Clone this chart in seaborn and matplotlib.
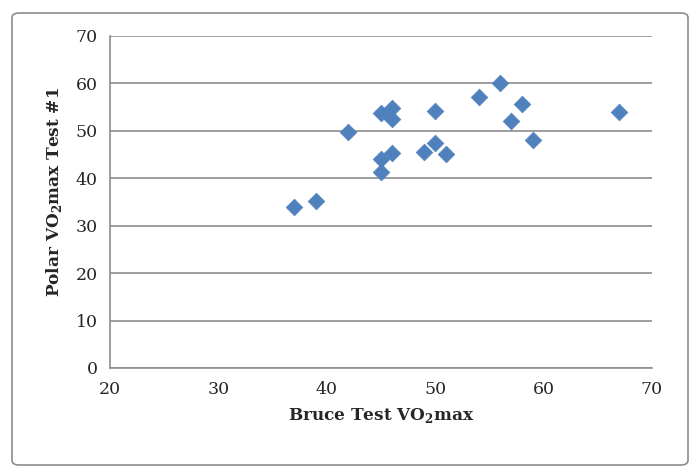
import matplotlib
matplotlib.use("Agg")
import matplotlib.pyplot as plt
from matplotlib.patches import FancyBboxPatch
import pandas as pd
import seaborn as sns

# Valori
bruce = [37, 39, 42, 45, 46, 46, 45, 46, 45, 49, 50, 51, 50, 54, 56, 58, 57, 59, 67]
polar = [34.0, 35.2, 49.8, 53.7, 54.8, 52.5, 44.0, 45.3, 41.3, 45.6, 47.4, 45.1, 54.2, 57.1, 60.1, 55.6, 52.1, 48.1, 53.9]
x_ticks = [20, 30, 40, 50, 60, 70]
y_ticks = [0, 10, 20, 30, 40, 50, 60, 70]

df = pd.DataFrame({"bruce": bruce, "polar": polar})

sns.set_style("white")
plt.rcParams["font.family"] = ["DejaVu Serif"]
plt.rcParams["mathtext.fontset"] = "custom"
plt.rcParams["mathtext.rm"] = "DejaVu Serif"
plt.rcParams["mathtext.bf"] = "DejaVu Serif:bold"

fig = plt.figure(figsize=(7, 4.75), dpi=100)
ax = fig.add_axes([110 / 700, 1 - 368 / 475, 542 / 700, 332 / 475])

sns.scatterplot(data=df, x="bruce", y="polar", marker="D", s=72, color="#4F81BD",
                edgecolor="#4F81BD", linewidth=0.5, ax=ax, zorder=3)

ax.set_xlim(20, 70)
ax.set_ylim(0, 70)
ax.set_xticks(x_ticks)
ax.set_yticks(y_ticks)
ax.yaxis.grid(True, color="#8C8C8C", linewidth=1.2)
ax.xaxis.grid(False)
for side in ["top", "right"]:
    ax.spines[side].set_visible(False)
for side in ["left", "bottom"]:
    ax.spines[side].set_color("#8C8C8C")
    ax.spines[side].set_linewidth(1.2)
ax.tick_params(axis="both", direction="out", length=5, width=1.2, color="#8C8C8C",
               labelsize=12.5, labelcolor="#262626", pad=4)

ax.set_xlabel(r"Bruce Test VO$_\mathbf{2}$max", fontsize=12.2, fontweight="bold", labelpad=6)
ax.set_ylabel(r"Polar VO$_\mathbf{2}$max Test #1", fontsize=12.2, fontweight="bold", labelpad=8, y=0.53)

# chenarul exterior al figurii
frame = FancyBboxPatch((12 / 700, 10 / 475), 676 / 700, 452 / 475,
                       boxstyle="round,pad=0,rounding_size=0.01",
                       transform=fig.transFigure, fill=False,
                       edgecolor="#8C8C8C", linewidth=1.2)
fig.patches.append(frame)

fig.savefig("out.png", dpi=100)
